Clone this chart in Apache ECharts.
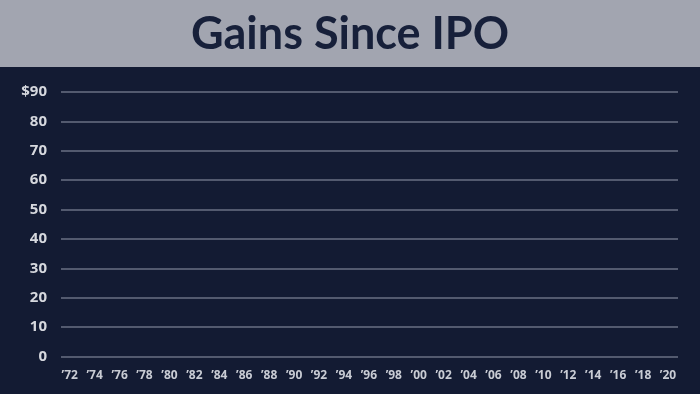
<!DOCTYPE html>
<html><head><meta charset="utf-8">
<script src="https://cdn.jsdelivr.net/npm/echarts@6/dist/echarts.min.js"></script>
<style>html,body{margin:0;padding:0;background:#131b33}#c{width:700px;height:394px}</style>
</head><body><div id="c"></div>
<script>
const titleText = 'Gains Since IPO';
const years = [1972,1974,1976,1978,1980,1982,1984,1986,1988,1990,1992,1994,1996,1998,2000,2002,2004,2006,2008,2010,2012,2014,2016,2018,2020];
const yTicks = [0,10,20,30,40,50,60,70,80,90];
const seriesValues = []; // no data plotted in the reference

const chart = echarts.init(document.getElementById('c'), null, {renderer:'canvas'});
chart.setOption({
  backgroundColor: '#131b33',
  animation: false,
  graphic: [{type:'rect', left:0, top:0, shape:{width:700, height:67}, style:{fill:'#a2a5b0'}, z:0}],
  title: {text: titleText, left:'center', top: 7,
    textStyle:{fontFamily:'Lato', fontWeight:'bold', fontSize:45, color:'#17203a'}},
  grid: {left:61, right:22, top:92, bottom:37.5, containLabel:false},
  xAxis: {type:'value', min:1971.3, max:2020.8,
    axisLine:{show:false}, axisTick:{show:false}, splitLine:{show:false},
    axisLabel:{customValues: years, color:'#c9ccd4', fontFamily:'Open Sans', fontWeight:'bold', fontSize:12, margin:13,
      formatter: v => '\u2019' + String(v).slice(2)}},
  yAxis: {type:'value', min:0, max:90, interval:10,
    axisLine:{show:false}, axisTick:{show:false},
    splitLine:{lineStyle:{color:'#6a7084', width:1.5}},
    axisLabel:{color:'#d6d8de', fontFamily:'Open Sans', fontWeight:'bold', fontSize:15, margin:14,
      formatter: v => v === 90 ? '$' + v : String(v)}},
  series: [{type:'line', data: seriesValues, showSymbol:false, lineStyle:{color:'#ffffff'}}]
});
</script></body></html>
